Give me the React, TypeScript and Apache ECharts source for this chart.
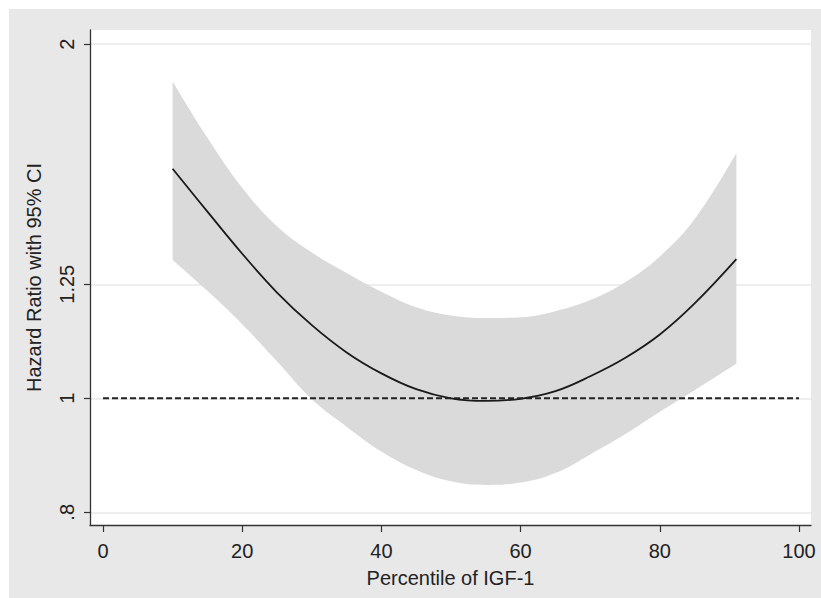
import React, { useEffect, useRef } from "react";
import * as echarts from "echarts";

// Percentile of IGF-1 (x) and hazard ratio with 95% CI (y, log scale)
const percentiles = [10, 15, 20, 25, 30, 35, 40, 45, 50, 55, 60, 65, 70, 75, 80, 85, 91];
const hazardRatio = [1.567, 1.441, 1.327, 1.23, 1.154, 1.094, 1.05, 1.018, 1.0, 0.995, 0.999, 1.014, 1.044, 1.082, 1.133, 1.204, 1.313];
const ciUpper = [1.859, 1.665, 1.51, 1.4, 1.33, 1.278, 1.232, 1.195, 1.176, 1.17, 1.172, 1.186, 1.212, 1.255, 1.32, 1.42, 1.616];
const ciLower = [1.311, 1.234, 1.156, 1.075, 0.998, 0.946, 0.901, 0.869, 0.85, 0.844, 0.848, 0.864, 0.896, 0.932, 0.974, 1.016, 1.07];

const referenceX = [0, 100];
const referenceHR = 1;

const xTicks = [0, 20, 40, 60, 80, 100];
const yTickValues = [0.8, 1, 1.25, 2];
const yTickLabels = [".8", "1", "1.25", "2"];

const xMin = -1.87;
const xMax = 101.72;
const yMin = 0.7804;
const yMax = 2.056;

const FONT = "'Liberation Sans', Arial, Helvetica, sans-serif";

export default function App() {
  const ref = useRef<HTMLDivElement>(null);

  useEffect(() => {
    if (!ref.current) return;
    const chart = echarts.init(ref.current, undefined, { renderer: "svg" });
    const ln = (v: number) => Math.log(v);

    // stacked band data: [y, x] order so that y is the stacked dimension
    const lowerData = percentiles.map((p, i) => [ln(ciLower[i]), p]);
    const bandData = percentiles.map((p, i) => [ln(ciUpper[i]) - ln(ciLower[i]), p]);
    const lineData = percentiles.map((p, i) => [p, ln(hazardRatio[i])]);
    const refData = referenceX.map((x) => [x, ln(referenceHR)]);

    const yLabel = (v: number) => {
      for (let i = 0; i < yTickValues.length; i++) {
        if (Math.abs(ln(yTickValues[i]) - v) < 1e-6) return yTickLabels[i];
      }
      return "";
    };

    chart.setOption({
      animation: false,
      backgroundColor: "#e8e8e8",
      textStyle: { fontFamily: FONT },
      grid: {
        left: 81,
        top: 21,
        right: 10,
        bottom: 73,
        show: true,
        backgroundColor: "#ffffff",
        borderWidth: 0,
      },
      xAxis: {
        type: "value",
        min: xMin,
        max: xMax,
        name: "Percentile of IGF-1",
        nameLocation: "middle",
        nameGap: 43,
        nameTextStyle: { fontSize: 20, color: "#222", fontFamily: FONT },
        axisLine: { show: true, onZero: false, lineStyle: { color: "#333", width: 1.3 } },
        axisTick: { show: true, length: 7, customValues: xTicks, lineStyle: { color: "#333", width: 1.2 } },
        axisLabel: {
          customValues: xTicks,
          fontSize: 20,
          color: "#222",
          margin: 16,
          fontFamily: FONT,
        },
        splitLine: { show: false },
      },
      yAxis: {
        type: "value",
        min: ln(yMin),
        max: ln(yMax),
        name: "Hazard Ratio with 95% CI",
        nameLocation: "middle",
        nameGap: 46,
        nameRotate: 90,
        nameTextStyle: { fontSize: 20, color: "#222", fontFamily: FONT },
        axisLine: { show: true, onZero: false, lineStyle: { color: "#333", width: 1.3 } },
        axisTick: {
          show: true,
          length: 6,
          customValues: yTickValues.map(ln),
          lineStyle: { color: "#333", width: 1.2 },
        },
        axisLabel: {
          customValues: yTickValues.map(ln),
          formatter: (v: number) => yLabel(v),
          rotate: 90,
          fontSize: 20,
          color: "#222",
          margin: 13,
          fontFamily: FONT,
        },
        splitLine: { show: true, lineStyle: { color: "#e9e9e9", width: 1.6 } },
      },
      series: [
        {
          name: "lower",
          type: "line",
          data: lowerData,
          encode: { x: 1, y: 0 },
          stack: "ci",
          stackStrategy: "all",
          smooth: 0.4,
          symbol: "none",
          lineStyle: { opacity: 0 },
          silent: true,
          z: 2,
        },
        {
          name: "band",
          type: "line",
          data: bandData,
          encode: { x: 1, y: 0 },
          stack: "ci",
          stackStrategy: "all",
          smooth: 0.4,
          symbol: "none",
          lineStyle: { opacity: 0 },
          areaStyle: { color: "#dadada", opacity: 1 },
          silent: true,
          z: 2,
        },
        {
          name: "HR",
          type: "line",
          data: lineData,
          smooth: 0.4,
          symbol: "none",
          lineStyle: { color: "#1a1a1a", width: 1.8 },
          z: 3,
        },
        {
          name: "ref",
          type: "line",
          data: refData,
          symbol: "none",
          lineStyle: { color: "#222", width: 2, type: [6, 3] },
          z: 4,
        },
      ],
    });

    return () => chart.dispose();
  }, []);

  return (
    <div
      ref={ref}
      style={{ position: "absolute", left: 9, top: 9, width: 812, height: 589 }}
    />
  );
}
